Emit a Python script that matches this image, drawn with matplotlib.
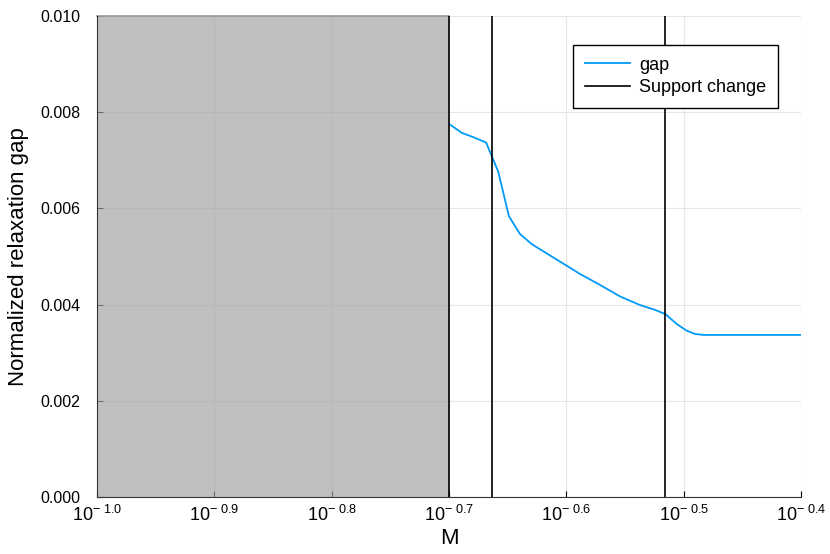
import numpy as np
from matplotlib import pyplot as plt
from matplotlib.ticker import FixedLocator, FixedFormatter

plt.rcParams['font.family'] = ['Liberation Sans', 'DejaVu Sans']
plt.rcParams['mathtext.fontset'] = 'custom'
plt.rcParams['mathtext.rm'] = 'Liberation Sans'
plt.rcParams['mathtext.it'] = 'Liberation Sans'

# data
M = [0.1995, 0.2046, 0.2093, 0.2146, 0.2198, 0.2244, 0.2293, 0.2346,
     0.2579, 0.2683, 0.2791, 0.2903, 0.2990, 0.3052, 0.3118, 0.3180,
     0.3233, 0.3286, 0.3981]
gap = [7.76e-3, 7.57e-3, 7.48e-3, 7.37e-3, 6.76e-3, 5.84e-3, 5.47e-3, 5.26e-3,
       4.64e-3, 4.41e-3, 4.17e-3, 3.99e-3, 3.89e-3, 3.80e-3, 3.60e-3, 3.46e-3,
       3.39e-3, 3.37e-3, 3.37e-3]
support_change = [0.1995, 0.2171, 0.3048]
shaded = (0.1, 0.1995)
xexp = [-1.0, -0.9, -0.8, -0.7, -0.6, -0.5, -0.4]
yticks = [0.0, 0.002, 0.004, 0.006, 0.008, 0.010]

fig = plt.figure(figsize=(8.3, 5.54), dpi=100)
ax = fig.add_axes([97/830, 57/554, 704/830, 481/554])

ax.set_xscale('log')
ax.axvspan(shaded[0], shaded[1], facecolor='0.63', alpha=0.67, edgecolor='none', zorder=2)
ax.plot([shaded[0], shaded[1]], [0.010, 0.010], color='0.6', lw=1.2, zorder=2, clip_on=False)
ax.plot(M, gap, color='#009af9', lw=1.3, label='gap', zorder=3)
for i, v in enumerate(support_change):
  ax.axvline(v, color='black', lw=1.2, zorder=3, label='Support change' if i == 0 else None)

ax.set_xlim(0.1, 10**-0.4)
ax.set_ylim(0, 0.010)
ax.xaxis.set_major_locator(FixedLocator([10**e for e in xexp]))
ax.xaxis.set_major_formatter(FixedFormatter([r'$10^{-\ %.1f}$' % -e for e in xexp]))
ax.xaxis.set_minor_locator(FixedLocator([]))
ax.set_yticks(yticks)
ax.set_yticklabels(['%.3f' % t for t in yticks])

ax.grid(True, color='#e6e6e6', lw=0.8, zorder=0)
ax.set_axisbelow(True)
for s in ['top', 'right']:
  ax.spines[s].set_visible(False)
for s in ['left', 'bottom']:
  ax.spines[s].set_color('#333333')
ax.tick_params(direction='in', length=4, labelsize=11.5, colors='black')
ax.tick_params(axis='y', pad=12)
ax.tick_params(axis='x', pad=6, labelsize=13)

ax.set_xlabel('M', fontsize=16, labelpad=2)
ax.set_ylabel('Normalized relaxation gap', fontsize=16, labelpad=8)

leg = ax.legend(loc='upper right', bbox_to_anchor=(0.967, 0.94), fontsize=13,
                fancybox=False, framealpha=1, edgecolor='black', handlelength=2.5,
                handletextpad=0.5, borderpad=0.65, labelspacing=0.3, borderaxespad=0)
leg.get_frame().set_linewidth(1)

fig.savefig('out.png', dpi=100)
